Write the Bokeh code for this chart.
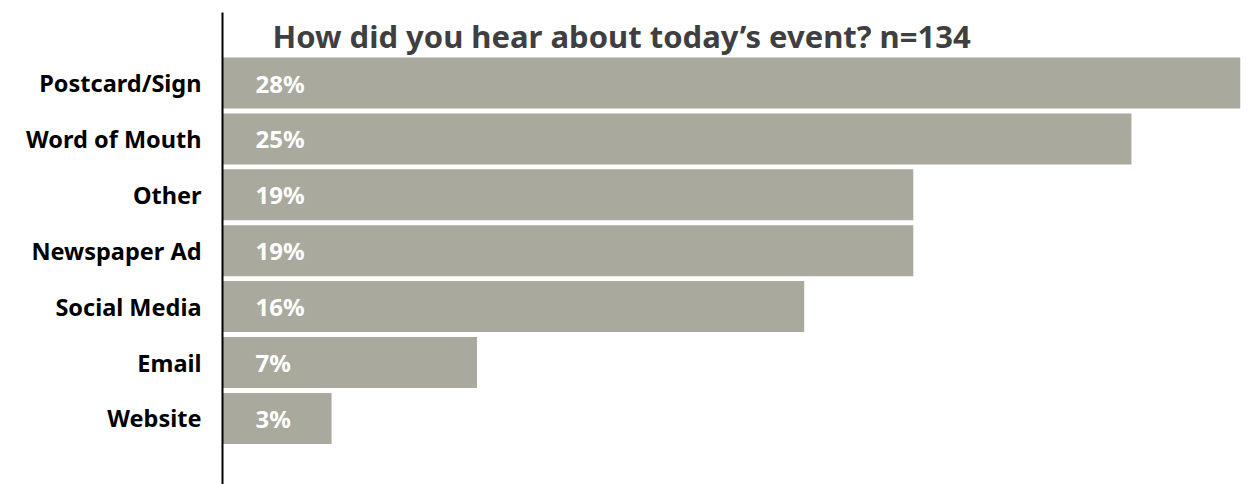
from bokeh.plotting import figure
from bokeh.models import Range1d, FixedTicker, Label, ColumnDataSource
from bokeh.embed import file_html
from bokeh.resources import INLINE
from bokeh.core.properties import value

categories = ["Postcard/Sign", "Word of Mouth", "Other", "Newspaper Ad",
              "Social Media", "Email", "Website"]
percents = [28, 25, 19, 19, 16, 7, 3]
pct_labels = ["28%", "25%", "19%", "19%", "16%", "7%", "3%"]
title_text = "How did you hear about today\u2019s event? n=134"

FONT = "Noto Sans"
n = len(categories)
ypos = [n - 1 - i for i in range(n)]

W, H = 1249, 484
top_b, bot_b = 12, 0
frame_h = H - top_b - bot_b
pitch = 55.9
y1 = (n - 1) + 70.5 / pitch
y0 = y1 - frame_h / pitch
px_per_unit = pitch

p = figure(width=W, height=H, output_backend="svg", toolbar_location=None,
           x_range=Range1d(0, max(percents)), y_range=Range1d(y0, y1),
           x_axis_location=None,
           min_border_left=222, min_border_right=9,
           min_border_top=top_b, min_border_bottom=bot_b)
p.outline_line_color = None
p.xgrid.visible = False
p.ygrid.visible = False
p.background_fill_color = "white"
p.border_fill_color = "white"

src = ColumnDataSource(dict(y=ypos, v=percents, lbl=pct_labels))
p.hbar(y="y", left=0, right="v", height=51 / pitch, source=src,
       fill_color="#a9a99d", line_color=None)
p.text(x=0, y="y", text="lbl", source=src, x_offset=33,
       text_baseline="middle", text_align="left", text_color="white",
       text_font=value(FONT), text_font_style="bold", text_font_size="24px")

ax = p.yaxis[0]
ax.ticker = FixedTicker(ticks=ypos)
ax.major_label_overrides = {y: c for y, c in zip(ypos, categories)}
ax.major_tick_line_color = None
ax.minor_tick_line_color = None
ax.axis_line_color = "black"
ax.axis_line_width = 2
ax.major_label_standoff = 15
ax.major_label_text_font = FONT
ax.major_label_text_font_style = "bold"
ax.major_label_text_font_size = "23.5px"
ax.major_label_text_color = "black"

title = Label(x=0, y=y1 - 23 / px_per_unit, x_offset=50, text=title_text,
              text_font=FONT, text_font_style="bold", text_font_size="31px",
              text_color="#3f3f41", text_baseline="alphabetic")
p.add_layout(title)

open("out.html", "w").write(file_html(p, INLINE))
